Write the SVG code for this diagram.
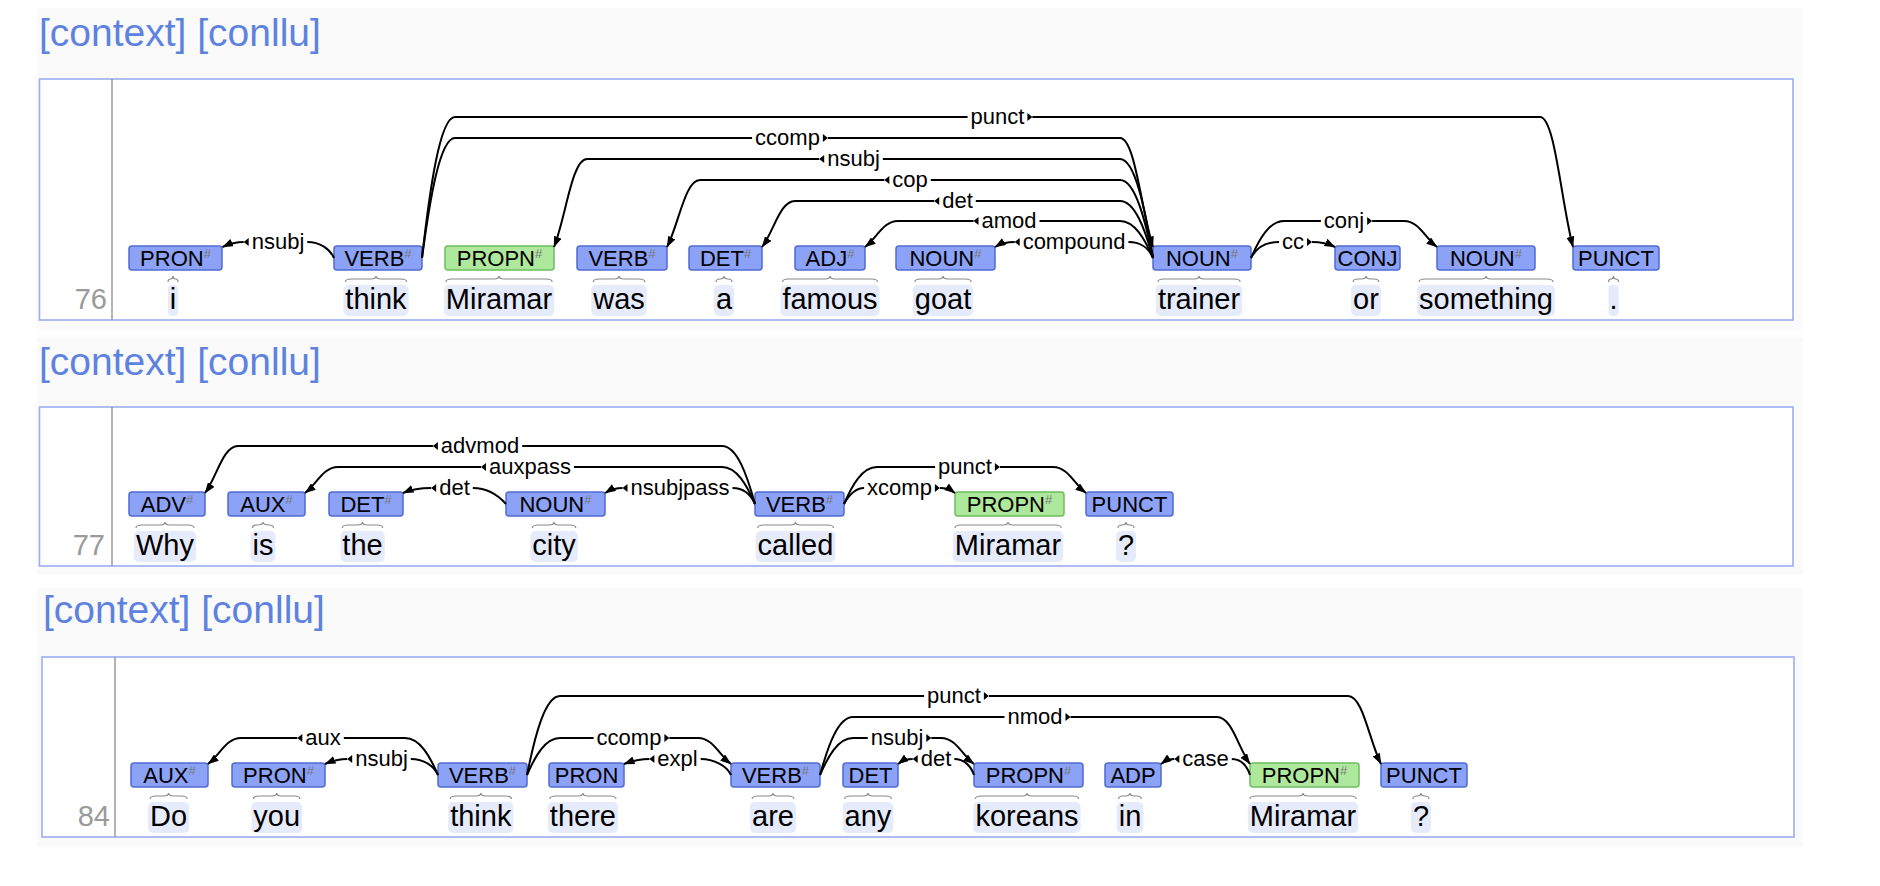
<svg xmlns="http://www.w3.org/2000/svg" width="1880" height="886" viewBox="0 0 1880 886">
<defs>
<marker id="ah" viewBox="0 0 11 8" refX="10.5" refY="4" markerWidth="11" markerHeight="8" markerUnits="userSpaceOnUse" orient="auto"><path d="M0,0 L11,4 L0,8 z" fill="#000"/></marker>
<style>
text{font-family:"Liberation Sans",Arial,Helvetica,sans-serif}
.bg{fill:#fafafa}
.sbox{fill:#fff;stroke:#9cadf3;stroke-width:1.6}
.sep{stroke:#9a9a9a;stroke-width:1.5}
.link{font-size:39px;fill:#5e82e0}
.num{font-size:29px;fill:#9a9a9a;text-anchor:end}
.bx{fill:#8ca2f6;stroke:#4f6bd4;stroke-width:1.5}
.bxg{fill:#aee89c;stroke:#6cbd5c;stroke-width:1.5}
.pl{font-size:22px;text-anchor:middle;fill:#000}
.sup{font-size:13px;fill:#777}
.hl{fill:#e6ebfb}
.br{fill:none;stroke:#8a8a8a;stroke-width:1.2}
.w{font-size:29px;text-anchor:middle;fill:#000}
.arc{fill:none;stroke:#000;stroke-width:2}
.lb{font-size:22px;text-anchor:middle;fill:#000}
.tri{fill:#000}
</style>
</defs>
<rect width="1880" height="886" fill="#fff"/>

<!-- ===== Sentence 76 ===== -->
<g id="sent76">
<rect class="bg" x="37" y="8" width="1766" height="322"/>
<text class="link" x="39" y="46">[context] [conllu]</text>
<rect class="sbox" x="39.5" y="79" width="1753.5" height="241"/>
<line class="sep" x1="112" y1="79" x2="112" y2="320"/>
<text class="num" x="107" y="309">76</text>
</g>

<g id="s76-i"><rect class="bx" x="129" y="246" width="93" height="24" rx="3"/><text class="pl" x="175.5" y="266">PRON<tspan class="sup" dy="-8">#</tspan></text><path class="br" d="M168,282 Q168,279 170.5,279 Q173,279 173,276 Q173,279 175.5,279 Q178,279 178,282"/><rect class="hl" x="168" y="285" width="10" height="31" rx="4"/><text class="w" x="173" y="309">i</text></g>
<g id="s76-think"><rect class="bx" x="334" y="246" width="88" height="24" rx="3"/><text class="pl" x="378" y="266">VERB<tspan class="sup" dy="-8">#</tspan></text><path class="br" d="M345.4,282 Q345.4,279 351.4,279 L371,279 Q376,279 376,276 Q376,279 381,279 L400.6,279 Q406.6,279 406.6,282"/><rect class="hl" x="343.4" y="285" width="65.2" height="31" rx="5"/><text class="w" x="376" y="309">think</text></g>
<g id="s76-Miramar"><rect class="bxg" x="445" y="246" width="109" height="24" rx="3"/><text class="pl" x="499.5" y="266">PROPN<tspan class="sup" dy="-8">#</tspan></text><path class="br" d="M445.9,282 Q445.9,279 451.9,279 L494,279 Q499,279 499,276 Q499,279 504,279 L546.1,279 Q552.1,279 552.1,282"/><rect class="hl" x="443.9" y="285" width="110.3" height="31" rx="5"/><text class="w" x="499" y="309">Miramar</text></g>
<g id="s76-was"><rect class="bx" x="577" y="246" width="90" height="24" rx="3"/><text class="pl" x="622" y="266">VERB<tspan class="sup" dy="-8">#</tspan></text><path class="br" d="M593.2,282 Q593.2,279 599.2,279 L614,279 Q619,279 619,276 Q619,279 624,279 L638.8,279 Q644.8,279 644.8,282"/><rect class="hl" x="591.2" y="285" width="55.6" height="31" rx="5"/><text class="w" x="619" y="309">was</text></g>
<g id="s76-a"><rect class="bx" x="689" y="246" width="73" height="24" rx="3"/><text class="pl" x="725.5" y="266">DET<tspan class="sup" dy="-8">#</tspan></text><path class="br" d="M716,282 Q716,279 720,279 Q724,279 724,276 Q724,279 728,279 Q732,279 732,282"/><rect class="hl" x="714" y="285" width="20" height="31" rx="5"/><text class="w" x="724" y="309">a</text></g>
<g id="s76-famous"><rect class="bx" x="795" y="246" width="70" height="24" rx="3"/><text class="pl" x="830" y="266">ADJ<tspan class="sup" dy="-8">#</tspan></text><path class="br" d="M782.5,282 Q782.5,279 788.5,279 L825,279 Q830,279 830,276 Q830,279 835,279 L871.5,279 Q877.5,279 877.5,282"/><rect class="hl" x="780.5" y="285" width="99" height="31" rx="5"/><text class="w" x="830" y="309">famous</text></g>
<g id="s76-goat"><rect class="bx" x="896" y="246" width="99" height="24" rx="3"/><text class="pl" x="945.5" y="266">NOUN<tspan class="sup" dy="-8">#</tspan></text><path class="br" d="M914.8,282 Q914.8,279 920.8,279 L938,279 Q943,279 943,276 Q943,279 948,279 L965.2,279 Q971.2,279 971.2,282"/><rect class="hl" x="912.8" y="285" width="60.4" height="31" rx="5"/><text class="w" x="943" y="309">goat</text></g>
<g id="s76-trainer"><rect class="bx" x="1153" y="246" width="98" height="24" rx="3"/><text class="pl" x="1202" y="266">NOUN<tspan class="sup" dy="-8">#</tspan></text><path class="br" d="M1157.9,282 Q1157.9,279 1163.9,279 L1194,279 Q1199,279 1199,276 Q1199,279 1204,279 L1234.1,279 Q1240.1,279 1240.1,282"/><rect class="hl" x="1155.9" y="285" width="86.2" height="31" rx="5"/><text class="w" x="1199" y="309">trainer</text></g>
<g id="s76-or"><rect class="bx" x="1335" y="246" width="65" height="24" rx="3"/><text class="pl" x="1367.5" y="266">CONJ</text><path class="br" d="M1353.1,282 Q1353.1,279 1358,279 L1361,279 Q1366,279 1366,276 Q1366,279 1371,279 L1374,279 Q1378.9,279 1378.9,282"/><rect class="hl" x="1351.1" y="285" width="29.8" height="31" rx="5"/><text class="w" x="1366" y="309">or</text></g>
<g id="s76-something"><rect class="bx" x="1437" y="246" width="98" height="24" rx="3"/><text class="pl" x="1486" y="266">NOUN<tspan class="sup" dy="-8">#</tspan></text><path class="br" d="M1419.1,282 Q1419.1,279 1425.1,279 L1481,279 Q1486,279 1486,276 Q1486,279 1491,279 L1546.9,279 Q1552.9,279 1552.9,282"/><rect class="hl" x="1417.1" y="285" width="137.8" height="31" rx="5"/><text class="w" x="1486" y="309">something</text></g>
<g id="s76-dot"><rect class="bx" x="1573" y="246" width="86" height="24" rx="3"/><text class="pl" x="1616" y="266">PUNCT</text><path class="br" d="M1608.5,282 Q1608.5,279 1611,279 Q1613.5,279 1613.5,276 Q1613.5,279 1616,279 Q1618.5,279 1618.5,282"/><rect class="hl" x="1608.5" y="285" width="10" height="31" rx="4"/><text class="w" x="1613.5" y="309">.</text></g>

<!-- ===== Sentence 77 ===== -->
<g id="sent77">
<rect class="bg" x="37" y="338" width="1766" height="237"/>
<text class="link" x="39" y="375">[context] [conllu]</text>
<rect class="sbox" x="39.5" y="407" width="1753.5" height="159"/>
<line class="sep" x1="112" y1="407" x2="112" y2="566"/>
<text class="num" x="105" y="555">77</text>
</g>

<g id="s77-Why"><rect class="bx" x="129" y="492" width="76" height="24" rx="3"/><text class="pl" x="167" y="512">ADV<tspan class="sup" dy="-8">#</tspan></text><path class="br" d="M136,528 Q136,525 142,525 L160,525 Q165,525 165,522 Q165,525 170,525 L188,525 Q194,525 194,528"/><rect class="hl" x="134" y="531" width="62" height="31" rx="5"/><text class="w" x="165" y="555">Why</text></g>
<g id="s77-is"><rect class="bx" x="228" y="492" width="77" height="24" rx="3"/><text class="pl" x="266.5" y="512">AUX<tspan class="sup" dy="-8">#</tspan></text><path class="br" d="M252.5,528 Q252.5,525 257,525 Q263,525 263,522 Q263,525 269,525 Q273.5,525 273.5,528"/><rect class="hl" x="250.5" y="531" width="25" height="31" rx="5"/><text class="w" x="263" y="555">is</text></g>
<g id="s77-the"><rect class="bx" x="329" y="492" width="74" height="24" rx="3"/><text class="pl" x="366" y="512">DET<tspan class="sup" dy="-8">#</tspan></text><path class="br" d="M342.4,528 Q342.4,525 348.4,525 L357.5,525 Q362.5,525 362.5,522 Q362.5,525 367.5,525 L376.6,525 Q382.6,525 382.6,528"/><rect class="hl" x="340.4" y="531" width="44.3" height="31" rx="5"/><text class="w" x="362.5" y="555">the</text></g>
<g id="s77-city"><rect class="bx" x="506" y="492" width="99" height="24" rx="3"/><text class="pl" x="555.5" y="512">NOUN<tspan class="sup" dy="-8">#</tspan></text><path class="br" d="M532.3,528 Q532.3,525 538.3,525 L549,525 Q554,525 554,522 Q554,525 559,525 L569.8,525 Q575.8,525 575.8,528"/><rect class="hl" x="530.3" y="531" width="47.5" height="31" rx="5"/><text class="w" x="554" y="555">city</text></g>
<g id="s77-called"><rect class="bx" x="755" y="492" width="89" height="24" rx="3"/><text class="pl" x="799.5" y="512">VERB<tspan class="sup" dy="-8">#</tspan></text><path class="br" d="M757.7,528 Q757.7,525 763.7,525 L790.5,525 Q795.5,525 795.5,522 Q795.5,525 800.5,525 L827.4,525 Q833.4,525 833.4,528"/><rect class="hl" x="755.7" y="531" width="79.7" height="31" rx="5"/><text class="w" x="795.5" y="555">called</text></g>
<g id="s77-Miramar"><rect class="bxg" x="955" y="492" width="109" height="24" rx="3"/><text class="pl" x="1009.5" y="512">PROPN<tspan class="sup" dy="-8">#</tspan></text><path class="br" d="M954.9,528 Q954.9,525 960.9,525 L1003,525 Q1008,525 1008,522 Q1008,525 1013,525 L1055.2,525 Q1061.2,525 1061.2,528"/><rect class="hl" x="952.9" y="531" width="110.3" height="31" rx="5"/><text class="w" x="1008" y="555">Miramar</text></g>
<g id="s77-q"><rect class="bx" x="1086" y="492" width="87" height="24" rx="3"/><text class="pl" x="1129.5" y="512">PUNCT</text><path class="br" d="M1118,528 Q1118,525 1122,525 Q1126,525 1126,522 Q1126,525 1130,525 Q1134,525 1134,528"/><rect class="hl" x="1116" y="531" width="20" height="31" rx="5"/><text class="w" x="1126" y="555">?</text></g>

<!-- ===== Sentence 84 ===== -->
<g id="sent84">
<rect class="bg" x="37" y="588" width="1766" height="258"/>
<text class="link" x="43" y="623">[context] [conllu]</text>
<rect class="sbox" x="42" y="657" width="1752" height="180"/>
<line class="sep" x1="115" y1="657" x2="115" y2="837"/>
<text class="num" x="110" y="826">84</text>
</g>

<g id="s84-Do"><rect class="bx" x="131" y="763" width="77" height="24" rx="3"/><text class="pl" x="169.5" y="783">AUX<tspan class="sup" dy="-8">#</tspan></text><path class="br" d="M150.1,799 Q150.1,796 156.1,796 L163.6,796 Q168.6,796 168.6,793 Q168.6,796 173.6,796 L181.1,796 Q187.1,796 187.1,799"/><rect class="hl" x="148.1" y="802" width="41" height="31" rx="5"/><text class="w" x="168.6" y="826">Do</text></g>
<g id="s84-you"><rect class="bx" x="232" y="763" width="93" height="24" rx="3"/><text class="pl" x="278.5" y="783">PRON<tspan class="sup" dy="-8">#</tspan></text><path class="br" d="M253.4,799 Q253.4,796 259.4,796 L271.7,796 Q276.7,796 276.7,793 Q276.7,796 281.7,796 L294,796 Q300,796 300,799"/><rect class="hl" x="251.4" y="802" width="50.7" height="31" rx="5"/><text class="w" x="276.7" y="826">you</text></g>
<g id="s84-think"><rect class="bx" x="438" y="763" width="89" height="24" rx="3"/><text class="pl" x="482.5" y="783">VERB<tspan class="sup" dy="-8">#</tspan></text><path class="br" d="M450.2,799 Q450.2,796 456.2,796 L475.8,796 Q480.8,796 480.8,793 Q480.8,796 485.8,796 L505.4,796 Q511.4,796 511.4,799"/><rect class="hl" x="448.2" y="802" width="65.2" height="31" rx="5"/><text class="w" x="480.8" y="826">think</text></g>
<g id="s84-there"><rect class="bx" x="549" y="763" width="75" height="24" rx="3"/><text class="pl" x="586.5" y="783">PRON</text><path class="br" d="M549.9,799 Q549.9,796 555.9,796 L577.9,796 Q582.9,796 582.9,793 Q582.9,796 587.9,796 L610,796 Q616,796 616,799"/><rect class="hl" x="547.9" y="802" width="70.1" height="31" rx="5"/><text class="w" x="582.9" y="826">there</text></g>
<g id="s84-are"><rect class="bx" x="731" y="763" width="89" height="24" rx="3"/><text class="pl" x="775.5" y="783">VERB<tspan class="sup" dy="-8">#</tspan></text><path class="br" d="M752.1,799 Q752.1,796 758.1,796 L768,796 Q773,796 773,793 Q773,796 778,796 L788,796 Q794,796 794,799"/><rect class="hl" x="750.1" y="802" width="45.9" height="31" rx="5"/><text class="w" x="773" y="826">are</text></g>
<g id="s84-any"><rect class="bx" x="843" y="763" width="55" height="24" rx="3"/><text class="pl" x="870.5" y="783">DET</text><path class="br" d="M844.7,799 Q844.7,796 850.7,796 L863,796 Q868,796 868,793 Q868,796 873,796 L885.4,796 Q891.4,796 891.4,799"/><rect class="hl" x="842.7" y="802" width="50.7" height="31" rx="5"/><text class="w" x="868" y="826">any</text></g>
<g id="s84-koreans"><rect class="bx" x="974" y="763" width="109" height="24" rx="3"/><text class="pl" x="1028.5" y="783">PROPN<tspan class="sup" dy="-8">#</tspan></text><path class="br" d="M975.4,799 Q975.4,796 981.4,796 L1022,796 Q1027,796 1027,793 Q1027,796 1032,796 L1072.6,796 Q1078.6,796 1078.6,799"/><rect class="hl" x="973.4" y="802" width="107.2" height="31" rx="5"/><text class="w" x="1027" y="826">koreans</text></g>
<g id="s84-in"><rect class="bx" x="1105" y="763" width="56" height="24" rx="3"/><text class="pl" x="1133" y="783">ADP</text><path class="br" d="M1118.7,799 Q1118.7,796 1123,796 L1125,796 Q1130,796 1130,793 Q1130,796 1135,796 L1137,796 Q1141.3,796 1141.3,799"/><rect class="hl" x="1116.7" y="802" width="26.6" height="31" rx="5"/><text class="w" x="1130" y="826">in</text></g>
<g id="s84-Miramar"><rect class="bxg" x="1250" y="763" width="109" height="24" rx="3"/><text class="pl" x="1304.5" y="783">PROPN<tspan class="sup" dy="-8">#</tspan></text><path class="br" d="M1249.9,799 Q1249.9,796 1255.9,796 L1298,796 Q1303,796 1303,793 Q1303,796 1308,796 L1350.2,796 Q1356.2,796 1356.2,799"/><rect class="hl" x="1247.9" y="802" width="110.3" height="31" rx="5"/><text class="w" x="1303" y="826">Miramar</text></g>
<g id="s84-q"><rect class="bx" x="1381" y="763" width="86" height="24" rx="3"/><text class="pl" x="1424" y="783">PUNCT</text><path class="br" d="M1413,799 Q1413,796 1417,796 Q1421,796 1421,793 Q1421,796 1425,796 Q1429,796 1429,799"/><rect class="hl" x="1411" y="802" width="20" height="31" rx="5"/><text class="w" x="1421" y="826">?</text></g>

<!-- ===== Connectors ===== -->
<g id="connectors">
<!-- 76 -->
<g id="c76-nsubj-i"><path class="arc" d="M307.3,242 C320,242 330,249 334,258"/><path class="arc" marker-end="url(#ah)" d="M243.7,242 C236,242 229,244 222.5,247"/><polygon class="tri" points="243.7,242 248.7,238 248.7,246"/><text class="lb" x="278" y="249">nsubj</text></g>
<g id="c76-punct"><path class="arc" d="M422,258 C430,187.5 440,117 455,117 L967.6,117"/><path class="arc" marker-end="url(#ah)" d="M1032.4,117 L1540,117 C1555,117 1561,201.5 1573,247"/><polygon class="tri" points="1027.4,113 1027.4,121 1032.4,117"/><text class="lb" x="997.5" y="124">punct</text></g>
<g id="c76-ccomp"><path class="arc" d="M422,258 C430,198 440,138 455,138 L752.1,138"/><path class="arc" marker-end="url(#ah)" d="M827.9,138 L1120,138 C1135,138 1141,208.8 1153,247"/><polygon class="tri" points="822.9,134 822.9,142 827.9,138"/><text class="lb" x="787.5" y="145">ccomp</text></g>
<g id="c76-nsubj"><path class="arc" d="M1153,258 C1145,208.5 1135,159 1120,159 L882.8,159"/><path class="arc" marker-end="url(#ah)" d="M819.2,159 L587,159 C572,159 566,216.2 554,247"/><polygon class="tri" points="819.2,159 824.2,155 824.2,163"/><text class="lb" x="853.5" y="166">nsubj</text></g>
<g id="c76-cop"><path class="arc" d="M1153,258 C1145,219 1135,180 1120,180 L930.8,180"/><path class="arc" marker-end="url(#ah)" d="M884.3,180 L700,180 C685,180 679,223.6 667,247"/><polygon class="tri" points="884.3,180 889.3,176 889.3,184"/><text class="lb" x="910" y="187">cop</text></g>
<g id="c76-det"><path class="arc" d="M1153,258 C1145,229.5 1135,201 1120,201 L975.8,201"/><path class="arc" marker-end="url(#ah)" d="M934.2,201 L795,201 C780,201 774,230.9 762,247"/><polygon class="tri" points="934.2,201 939.2,197 939.2,205"/><text class="lb" x="957.5" y="208">det</text></g>
<g id="c76-amod"><path class="arc" d="M1153,258 C1145,239.5 1135,221 1120,221 L1039.5,221"/><path class="arc" marker-end="url(#ah)" d="M973.5,221 L898,221 C883,221 877,237.9 865,247"/><polygon class="tri" points="973.5,221 978.5,217 978.5,225"/><text class="lb" x="1009" y="228">amod</text></g>
<g id="c76-compound"><path class="arc" d="M1128.4,242 C1140,242 1149,248 1153,258"/><path class="arc" marker-end="url(#ah)" d="M1014.7,242 C1006,242 1000,244 995,247"/><polygon class="tri" points="1014.7,242 1019.7,238 1019.7,246"/><text class="lb" x="1074" y="249">compound</text></g>
<g id="c76-conj"><path class="arc" d="M1251,258 C1259,239.5 1269,221 1284,221 L1320.9,221"/><path class="arc" marker-end="url(#ah)" d="M1372.2,221 L1404,221 C1419,221 1425,237.9 1437,247"/><polygon class="tri" points="1367.2,217 1367.2,225 1372.2,221"/><text class="lb" x="1344" y="228">conj</text></g>
<g id="c76-cc"><path class="arc" d="M1251,258 C1256,248 1265,242 1279,242"/><path class="arc" marker-end="url(#ah)" d="M1312,242 C1322,242 1329,244 1335,247"/><polygon class="tri" points="1307,238 1307,246 1312,242"/><text class="lb" x="1293" y="249">cc</text></g>
<!-- 77 -->
<g id="c77-advmod"><path class="arc" d="M755,504 C747,475 737,446 722,446 L522.2,446"/><path class="arc" marker-end="url(#ah)" d="M432.9,446 L238,446 C223,446 217,476.6 205,493"/><polygon class="tri" points="432.9,446 437.9,442 437.9,450"/><text class="lb" x="480" y="453">advmod</text></g>
<g id="c77-auxpass"><path class="arc" d="M755,504 C747,485.5 737,467 722,467 L574,467"/><path class="arc" marker-end="url(#ah)" d="M481,467 L338,467 C323,467 317,483.9 305,493"/><polygon class="tri" points="481,467 486,463 486,471"/><text class="lb" x="530" y="474">auxpass</text></g>
<g id="c77-det"><path class="arc" d="M472.8,488 C486,488 498,495 506,504"/><path class="arc" marker-end="url(#ah)" d="M431.2,488 C420,488 410,490 403,493"/><polygon class="tri" points="431.2,488 436.2,484 436.2,492"/><text class="lb" x="454.5" y="495">det</text></g>
<g id="c77-nsubjpass"><path class="arc" d="M732.5,488 C744,488 751,495 755,504"/><path class="arc" marker-end="url(#ah)" d="M622.5,488 C615,488 610,490 605,493"/><polygon class="tri" points="622.5,488 627.5,484 627.5,492"/><text class="lb" x="680" y="495">nsubjpass</text></g>
<g id="c77-xcomp"><path class="arc" d="M844,504 C849,495 855,488 864.1,488"/><path class="arc" marker-end="url(#ah)" d="M939.9,488 C946,488 951,490 955,493"/><polygon class="tri" points="934.9,484 934.9,492 939.9,488"/><text class="lb" x="899.5" y="495">xcomp</text></g>
<g id="c77-punct"><path class="arc" d="M844,504 C852,485.5 862,467 877,467 L935.1,467"/><path class="arc" marker-end="url(#ah)" d="M999.9,467 L1053,467 C1068,467 1074,483.9 1086,493"/><polygon class="tri" points="994.9,463 994.9,471 999.9,467"/><text class="lb" x="965" y="474">punct</text></g>
<!-- 84 -->
<g id="c84-aux"><path class="arc" d="M438,775 C430,756.5 420,738 405,738 L343.8,738"/><path class="arc" marker-end="url(#ah)" d="M297.3,738 L241,738 C226,738 220,754.9 208,764"/><polygon class="tri" points="297.3,738 302.3,734 302.3,742"/><text class="lb" x="323" y="745">aux</text></g>
<g id="c84-nsubj-you"><path class="arc" d="M410.8,759 C424,759 434,766 438,775"/><path class="arc" marker-end="url(#ah)" d="M347.2,759 C339,759 332,761 325,764"/><polygon class="tri" points="347.2,759 352.2,755 352.2,763"/><text class="lb" x="381.5" y="766">nsubj</text></g>
<g id="c84-ccomp"><path class="arc" d="M527,775 C535,756.5 545,738 560,738 L593.6,738"/><path class="arc" marker-end="url(#ah)" d="M669.4,738 L698,738 C713,738 719,754.9 731,764"/><polygon class="tri" points="664.4,734 664.4,742 669.4,738"/><text class="lb" x="629" y="745">ccomp</text></g>
<g id="c84-expl"><path class="arc" d="M700.7,759 C714,759 727,766 731,775"/><path class="arc" marker-end="url(#ah)" d="M649.4,759 C640,759 632,761 624,764"/><polygon class="tri" points="649.4,759 654.4,755 654.4,763"/><text class="lb" x="677.5" y="766">expl</text></g>
<g id="c84-punct"><path class="arc" d="M527,775 C535,735.5 545,696 560,696 L924.1,696"/><path class="arc" marker-end="url(#ah)" d="M988.9,696 L1348,696 C1363,696 1369,740.2 1381,764"/><polygon class="tri" points="983.9,692 983.9,700 988.9,696"/><text class="lb" x="954" y="703">punct</text></g>
<g id="c84-nmod"><path class="arc" d="M820,775 C828,746 838,717 853,717 L1004.5,717"/><path class="arc" marker-end="url(#ah)" d="M1070.5,717 L1217,717 C1232,717 1238,747.6 1250,764"/><polygon class="tri" points="1065.5,713 1065.5,721 1070.5,717"/><text class="lb" x="1035" y="724">nmod</text></g>
<g id="c84-nsubj"><path class="arc" d="M820,775 C828,756.5 838,738 853,738 L867.7,738"/><path class="arc" marker-end="url(#ah)" d="M931.3,738 L941,738 C956,738 962,754.9 974,764"/><polygon class="tri" points="926.3,734 926.3,742 931.3,738"/><text class="lb" x="897" y="745">nsubj</text></g>
<g id="c84-det"><path class="arc" d="M954.3,759 C964,759 971,766 974,775"/><path class="arc" marker-end="url(#ah)" d="M912.7,759 C907,759 902,761 898,764"/><polygon class="tri" points="912.7,759 917.7,755 917.7,763"/><text class="lb" x="936" y="766">det</text></g>
<g id="c84-case"><path class="arc" d="M1231.8,759 C1241,759 1247,766 1250,775"/><path class="arc" marker-end="url(#ah)" d="M1174.3,759 C1169,759 1165,761 1161,764"/><polygon class="tri" points="1174.3,759 1179.3,755 1179.3,763"/><text class="lb" x="1205.5" y="766">case</text></g>
</g>
</svg>
